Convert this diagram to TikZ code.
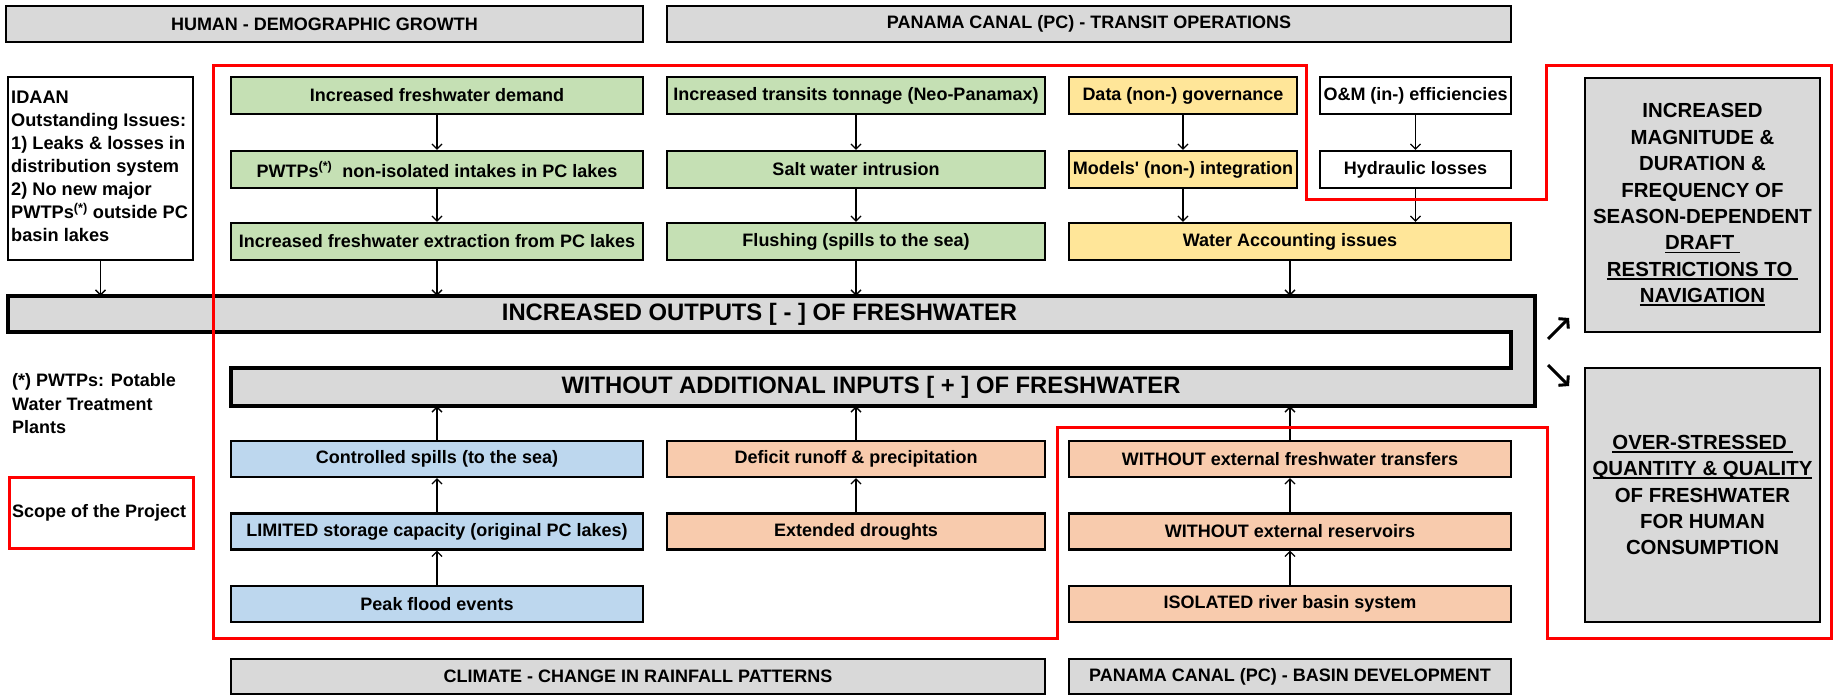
\documentclass[tikz,border=0pt]{standalone}
\usepackage{fontspec}
\setmainfont{Liberation Sans}
\usetikzlibrary{arrows.meta}
\definecolor{cgreen}{RGB}{197,224,180}
\definecolor{cblue}{RGB}{189,215,238}
\definecolor{corange}{RGB}{248,203,173}
\definecolor{cyellow}{RGB}{255,230,153}
\definecolor{cgray}{RGB}{217,217,217}
\definecolor{cred}{RGB}{255,0,0}
\newcommand\myul[1]{\setbox0\hbox{#1}\rlap{\rule[-3.5pt]{\wd0}{1.8pt}}\box0}
\begin{document}
\begin{tikzpicture}[x=1pt,y=-1pt,
  bx/.style={draw, line width=2.2pt, inner sep=0pt, font=\fontsize{18}{21}\selectfont\bfseries, align=center},
  hdr/.style={bx, fill=cgray, minimum height=36pt},
  gbox/.style={bx, fill=cgreen, minimum height=37pt},
  bbox/.style={bx, fill=cblue, minimum height=36pt},
  obox/.style={bx, fill=corange, minimum height=36pt},
  ybox/.style={bx, fill=cyellow, minimum height=37pt},
  wbox/.style={bx, fill=white, minimum height=37pt},
  bigtxt/.style={inner sep=0pt, font=\fontsize{23.8}{28}\selectfont\bfseries},
  rbox/.style={draw, line width=2.5pt, fill=cgray, inner sep=0pt, minimum width=235pt, minimum height=254pt, align=center, font=\fontsize{20.4}{26.4}\selectfont\bfseries},
  arr/.style={line width=1.3pt, -{Straight Barb[length=5pt,width=10pt]}},
  bigarr/.style={line width=3pt, -{Straight Barb[length=6pt,width=14pt]}},
  redline/.style={draw=cred, line width=3pt},
  c1/.style={minimum width=412pt},
  c2/.style={minimum width=378pt},
  c3/.style={minimum width=228pt},
  c4/.style={minimum width=191pt},
  c34/.style={minimum width=442pt}]
\useasboundingbox (0,0) rectangle (1834,695);

% headers
\node[hdr, minimum width=637pt] (hH) at (324.5,24) {HUMAN - DEMOGRAPHIC GROWTH};
\node[hdr, minimum width=844pt] (hP) at (1089,24) {PANAMA CANAL (PC) - TRANSIT OPERATIONS};
\node[hdr, minimum width=814pt, minimum height=35pt] (hC) at (638,676.5) {CLIMATE - CHANGE IN RAINFALL PATTERNS};
\node[hdr, minimum width=442pt, minimum height=35pt] (hB) at (1290,676.5) {PANAMA CANAL (PC) - BASIN DEVELOPMENT};

% IDAAN
\node[draw, line width=2.2pt, fill=white, minimum width=185pt, minimum height=183pt, inner sep=0pt] (idaan) at (100.5,168.5) {};
\node[inner sep=0pt, align=left, anchor=west, font=\fontsize{18.2}{23.1}\selectfont\bfseries] (idaantxt) at (11,166.5) {IDAAN\\ Outstanding Issues:\\ 1) Leaks \& losses in\\ distribution system\\ 2) No new major\\ \mbox{PWTPs\textsuperscript{(*)} outside PC}\\ basin lakes};

% upper rows
\node[gbox, c1] (r1c1) at (437,95.5) {Increased freshwater demand};
\node[gbox, c1] (r2c1) at (437,169.5) {PWTPs\textsuperscript{(*)}\ \ non-isolated intakes in PC lakes};
\node[gbox, c1] (r3c1) at (437,241.5) {Increased freshwater extraction from PC lakes};
\node[gbox, c2] (r1c2) at (856,95.5) {Increased transits tonnage (Neo-Panamax)};
\node[gbox, c2] (r2c2) at (856,169.5) {Salt water intrusion};
\node[gbox, c2] (r3c2) at (856,241.5) {Flushing (spills to the sea)};
\node[ybox, c3] (r1c3) at (1183,95.5) {Data (non-) governance};
\node[ybox, c3] (r2c3) at (1183,169.5) {Models\textquotesingle{} (non-) integration};
\node[wbox, c4] (r1c4) at (1415.5,95.5) {O\&M (in-) efficiencies};
\node[wbox, c4] (r2c4) at (1415.5,169.5) {Hydraulic losses};
\node[ybox, c34] (wa) at (1290,241.5) {Water Accounting issues};

% big bars
\draw[line width=3.5pt, fill=cgray, line join=miter] (8,296) -- (1535,296) -- (1535,406) -- (231,406) -- (231,368) -- (1511,368) -- (1511,332) -- (8,332) -- cycle;
\node[bigtxt, minimum width=1503pt, minimum height=36pt] (out) at (759.5,314) {INCREASED OUTPUTS [ - ] OF FRESHWATER};
\node[bigtxt, minimum width=1280pt, minimum height=38pt] (inp) at (871,387) {WITHOUT ADDITIONAL INPUTS [ + ] OF FRESHWATER};

% lower rows
\node[bbox, c1] (b1c1) at (437,459) {Controlled spills (to the sea)};
\node[bbox, c1] (b2c1) at (437,531.5) {LIMITED storage capacity (original PC lakes)};
\node[bbox, c1] (b3c1) at (437,604) {Peak flood events};
\node[obox, c2] (b1c2) at (856,459) {Deficit runoff \& precipitation};
\node[obox, c2] (b2c2) at (856,531.5) {Extended droughts};
\node[obox, c34] (b1c3) at (1290,459) {WITHOUT external freshwater transfers};
\node[obox, c34] (b2c3) at (1290,531.5) {WITHOUT external reservoirs};
\node[obox, c34] (b3c3) at (1290,604) {ISOLATED river basin system};

% right boxes
\node[rbox] (res1) at (1702.5,205) {INCREASED\\ MAGNITUDE \&\\ DURATION \&\\ FREQUENCY OF\\ SEASON-DEPENDENT\\ \myul{DRAFT\ }\\ \myul{RESTRICTIONS TO\ }\\ \myul{NAVIGATION}};
\node[rbox] (res2) at (1702.5,495) {\myul{OVER-STRESSED\ }\\ \myul{QUANTITY \& QUALITY}\\ OF FRESHWATER\\ FOR HUMAN\\ CONSUMPTION};

% notes
\node[inner sep=0pt, align=left, anchor=west, font=\fontsize{18}{23.5}\selectfont\bfseries] (note) at (12,404) {(*) PWTPs: Potable\\ Water Treatment\\ Plants};
\node[draw=cred, line width=3pt, minimum width=184pt, minimum height=71pt, inner sep=0pt] (scope) at (101,512.5) {};
\node[inner sep=0pt, anchor=west, font=\fontsize{18}{21}\selectfont\bfseries] (scopetxt) at (12,512.5) {Scope of the Project};

% arrows down
\draw[arr] (r1c1) -- (r2c1);
\draw[arr] (r2c1) -- (r3c1);
\draw[arr] (r3c1.south) -- (r3c1.south |- out.north);
\draw[arr] (r1c2) -- (r2c2);
\draw[arr] (r2c2) -- (r3c2);
\draw[arr] (r3c2.south) -- (r3c2.south |- out.north);
\draw[arr] (r1c3) -- (r2c3);
\draw[arr] (r2c3.south) -- (r2c3.south |- wa.north);
\draw[arr] (r1c4) -- (r2c4);
\draw[arr] (r2c4.south) -- (r2c4.south |- wa.north);
\draw[arr] (wa.south) -- (wa.south |- out.north);
\draw[arr] (idaan.south) -- (idaan.south |- out.north);
% arrows up
\draw[arr] (b3c1) -- (b2c1);
\draw[arr] (b2c1) -- (b1c1);
\draw[arr] (b1c1.north) -- (b1c1.north |- inp.south);
\draw[arr] (b2c2) -- (b1c2);
\draw[arr] (b1c2.north) -- (b1c2.north |- inp.south);
\draw[arr] (b3c3) -- (b2c3);
\draw[arr] (b2c3) -- (b1c3);
\draw[arr] (b1c3.north) -- (b1c3.north |- inp.south);

% result arrows
\coordinate (ua) at (1548,339);
\coordinate (ub) at (1569,318);
\coordinate (da) at (1548,365);
\coordinate (db) at (1569,386);
\draw[bigarr] (ua) -- (ub);
\draw[bigarr] (da) -- (db);

% scope outline
\draw[redline, line join=miter] (213,66) -- (1306,66) -- (1306,200) -- (1546,200) -- (1546,66) -- (1831,66) -- (1831,638.5) -- (1547,638.5) -- (1547,427) -- (1057,427) -- (1057,638.5) -- (213,638.5) -- cycle;
\end{tikzpicture}
\end{document}
